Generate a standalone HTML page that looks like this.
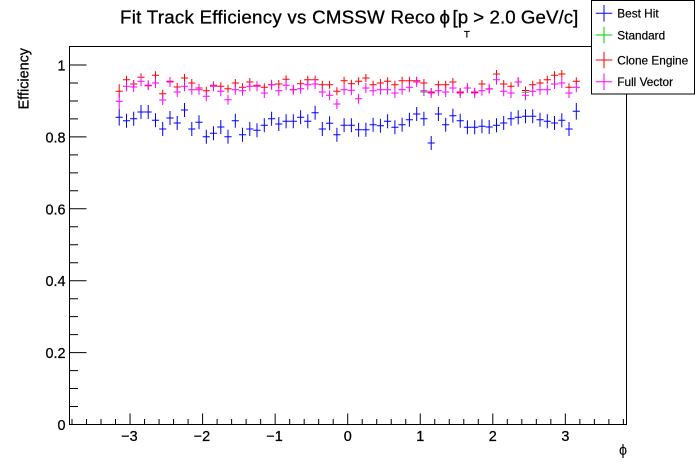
<!DOCTYPE html>
<html><head><meta charset="utf-8"><style>
html,body{margin:0;padding:0;background:#fff;}
svg{display:block;}
text{font-family:"Liberation Sans","DejaVu Sans",sans-serif;fill:#000;}
</style></head><body>
<svg width="696" height="472" viewBox="0 0 696 472" xmlns="http://www.w3.org/2000/svg">
<defs>
<path id="b7" d="M-3.6 0h7.2M0 -7v14" fill="none"/>
<path id="b8" d="M-3.6 0h7.2M0 -8.3v16.6" fill="none"/>
<path id="r4" d="M-3.6 0h7.2M0 -4v8" fill="none"/>
<path id="r7" d="M-3.6 0h7.2M0 -7v14" fill="none"/>
<path id="m5" d="M-3.6 0h7.2M0 -5v10" fill="none"/>
<path id="m8" d="M-3.6 0h7.2M0 -8v16" fill="none"/>
</defs>
<rect width="696" height="472" fill="#fff"/>
<path d="M69.5 46.5H626.5V424.5H69.5Z" fill="none" stroke="#000" stroke-width="1"/>
<path stroke="#000" stroke-width="1" fill="none" d="M130.05 424.5v-11M202.6 424.5v-11M275.15 424.5v-11M347.7 424.5v-11M420.25 424.5v-11M492.8 424.5v-11M565.35 424.5v-11M72 424.5v-5.5M86.5 424.5v-5.5M101 424.5v-5.5M115.5 424.5v-5.5M144.56 424.5v-5.5M159.07 424.5v-5.5M173.58 424.5v-5.5M188.09 424.5v-5.5M217.11 424.5v-5.5M231.62 424.5v-5.5M246.13 424.5v-5.5M260.64 424.5v-5.5M289.66 424.5v-5.5M304.17 424.5v-5.5M318.68 424.5v-5.5M333.19 424.5v-5.5M362.21 424.5v-5.5M376.72 424.5v-5.5M391.23 424.5v-5.5M405.74 424.5v-5.5M434.76 424.5v-5.5M449.27 424.5v-5.5M463.78 424.5v-5.5M478.29 424.5v-5.5M507.31 424.5v-5.5M521.82 424.5v-5.5M536.33 424.5v-5.5M550.84 424.5v-5.5M579.86 424.5v-5.5M594.37 424.5v-5.5M608.88 424.5v-5.5M623.39 424.5v-5.5"/>
<path stroke="#000" stroke-width="1" fill="none" d="M69.5 424.5h17M69.5 352.6h17M69.5 280.7h17M69.5 208.8h17M69.5 136.9h17M69.5 65h17M69.5 406.5h8.5M69.5 388.55h8.5M69.5 370.6h8.5M69.5 334.6h8.5M69.5 316.65h8.5M69.5 298.7h8.5M69.5 262.7h8.5M69.5 244.75h8.5M69.5 226.8h8.5M69.5 190.8h8.5M69.5 172.85h8.5M69.5 154.9h8.5M69.5 118.9h8.5M69.5 100.95h8.5M69.5 83h8.5"/>
<g font-size="14.4" text-anchor="end" stroke="#000" stroke-width="0.25">
<text x="65.5" y="430">0</text>
<text x="65.5" y="358.1">0.2</text>
<text x="65.5" y="286.2">0.4</text>
<text x="65.5" y="214.3">0.6</text>
<text x="65.5" y="142.4">0.8</text>
<text x="65.5" y="70.5">1</text>
</g>
<g font-size="14.4" text-anchor="middle" stroke="#000" stroke-width="0.25">
<text x="129.5" y="441">−3</text>
<text x="202" y="441">−2</text>
<text x="274.6" y="441">−1</text>
<text x="347.7" y="441">0</text>
<text x="420.25" y="441">1</text>
<text x="492.8" y="441">2</text>
<text x="565.35" y="441">3</text>
</g>
<text x="627" y="455" font-size="14.4" text-anchor="end">ϕ</text>
<text transform="translate(28.5,48) rotate(-90)" font-size="14.4" text-anchor="end" stroke="#000" stroke-width="0.25">Efficiency</text>
<g stroke="#000" stroke-width="0.3" font-size="18.7">
<text x="120" y="23.5" textLength="315" lengthAdjust="spacing">Fit Track Efficiency vs CMSSW Reco</text>
<text x="439.5" y="23.5">ϕ</text>
<text x="452.5" y="23.5">[p</text>
<text x="464" y="37.3" font-size="9.5">T</text>
<text x="473.3" y="23.5" textLength="105" lengthAdjust="spacing">&gt; 2.0 GeV/c]</text>
</g>
<g stroke="#0000ff" stroke-width="1">
<use href="#b8" x="119.2" y="117.3"/>
<use href="#b7" x="126.5" y="120.7"/>
<use href="#b7" x="133.7" y="118.7"/>
<use href="#b7" x="141.0" y="112"/>
<use href="#b7" x="148.2" y="112"/>
<use href="#b7" x="155.5" y="120.3"/>
<use href="#b7" x="162.7" y="129"/>
<use href="#b7" x="170.0" y="118"/>
<use href="#b7" x="177.2" y="123"/>
<use href="#b7" x="184.5" y="110"/>
<use href="#b7" x="191.8" y="129"/>
<use href="#b7" x="199.0" y="122.3"/>
<use href="#b7" x="206.3" y="136.7"/>
<use href="#b7" x="213.5" y="133.3"/>
<use href="#b7" x="220.8" y="127"/>
<use href="#b7" x="228.0" y="136.7"/>
<use href="#b7" x="235.3" y="120.7"/>
<use href="#b7" x="242.5" y="134.7"/>
<use href="#b7" x="249.8" y="129"/>
<use href="#b7" x="257.0" y="130.3"/>
<use href="#b7" x="264.3" y="125.3"/>
<use href="#b7" x="271.6" y="118.7"/>
<use href="#b7" x="278.8" y="124"/>
<use href="#b7" x="286.1" y="121.3"/>
<use href="#b7" x="293.3" y="121.3"/>
<use href="#b7" x="300.6" y="117.3"/>
<use href="#b7" x="307.8" y="121.3"/>
<use href="#b7" x="315.1" y="112.7"/>
<use href="#b7" x="322.3" y="129"/>
<use href="#b7" x="329.6" y="123.3"/>
<use href="#b7" x="336.9" y="134.7"/>
<use href="#b7" x="344.1" y="125.3"/>
<use href="#b7" x="351.4" y="125.3"/>
<use href="#b7" x="358.6" y="129.7"/>
<use href="#b7" x="365.9" y="129.7"/>
<use href="#b7" x="373.1" y="124.7"/>
<use href="#b7" x="380.4" y="125.7"/>
<use href="#b7" x="387.6" y="121.3"/>
<use href="#b7" x="394.9" y="127.3"/>
<use href="#b7" x="402.1" y="124.7"/>
<use href="#b7" x="409.4" y="119.7"/>
<use href="#b7" x="416.7" y="114"/>
<use href="#b7" x="423.9" y="118.7"/>
<use href="#b7" x="431.2" y="143"/>
<use href="#b7" x="438.4" y="114"/>
<use href="#b7" x="445.7" y="124.7"/>
<use href="#b7" x="452.9" y="115.7"/>
<use href="#b7" x="460.2" y="120.7"/>
<use href="#b7" x="467.4" y="127.3"/>
<use href="#b7" x="474.7" y="127.3"/>
<use href="#b7" x="481.95" y="126.3"/>
<use href="#b7" x="489.2" y="127"/>
<use href="#b7" x="496.5" y="125.3"/>
<use href="#b7" x="503.7" y="123"/>
<use href="#b7" x="511.0" y="118.7"/>
<use href="#b7" x="518.2" y="117.3"/>
<use href="#b7" x="525.5" y="116.3"/>
<use href="#b7" x="532.7" y="116.3"/>
<use href="#b7" x="540.0" y="119.7"/>
<use href="#b7" x="547.3" y="121.3"/>
<use href="#b7" x="554.5" y="123"/>
<use href="#b7" x="561.8" y="120.3"/>
<use href="#b7" x="569.0" y="129"/>
<use href="#b8" x="576.3" y="111.3"/>
</g>
<g stroke="#00cc00" stroke-width="1">
<use href="#r4" x="525.5" y="92.3"/>
<use href="#r4" x="423.9" y="92"/>
<use href="#r4" x="460.2" y="92"/>
</g>
<g stroke="#ff0000" stroke-width="1">
<use href="#r7" x="119.2" y="91.3"/>
<use href="#r4" x="126.5" y="79.7"/>
<use href="#r4" x="133.7" y="84"/>
<use href="#r4" x="141.0" y="77.3"/>
<use href="#r4" x="148.2" y="85.7"/>
<use href="#r4" x="155.5" y="75.3"/>
<use href="#r4" x="162.7" y="93.7"/>
<use href="#r4" x="170.0" y="81.3"/>
<use href="#r4" x="177.2" y="87"/>
<use href="#r4" x="184.5" y="78"/>
<use href="#r4" x="191.8" y="83"/>
<use href="#r4" x="199.0" y="88"/>
<use href="#r4" x="206.3" y="90.7"/>
<use href="#r4" x="213.5" y="85.3"/>
<use href="#r4" x="220.8" y="86.3"/>
<use href="#r4" x="228.0" y="88.7"/>
<use href="#r4" x="235.3" y="83"/>
<use href="#r4" x="242.5" y="87.3"/>
<use href="#r4" x="249.8" y="82"/>
<use href="#r4" x="257.0" y="85.3"/>
<use href="#r4" x="264.3" y="87.3"/>
<use href="#r4" x="271.6" y="84.7"/>
<use href="#r4" x="278.8" y="84"/>
<use href="#r4" x="286.1" y="79.3"/>
<use href="#r4" x="293.3" y="89.7"/>
<use href="#r4" x="300.6" y="83.7"/>
<use href="#r4" x="307.8" y="79.7"/>
<use href="#r4" x="315.1" y="79.7"/>
<use href="#r4" x="322.3" y="84.7"/>
<use href="#r4" x="329.6" y="84.7"/>
<use href="#r4" x="336.9" y="91.3"/>
<use href="#r4" x="344.1" y="80.7"/>
<use href="#r4" x="351.4" y="83.7"/>
<use href="#r4" x="358.6" y="81.3"/>
<use href="#r4" x="365.9" y="78"/>
<use href="#r4" x="373.1" y="84.7"/>
<use href="#r4" x="380.4" y="83"/>
<use href="#r4" x="387.6" y="81.3"/>
<use href="#r4" x="394.9" y="84.7"/>
<use href="#r4" x="402.1" y="80.7"/>
<use href="#r4" x="409.4" y="80.7"/>
<use href="#r4" x="416.7" y="80.7"/>
<use href="#r4" x="423.9" y="83"/>
<use href="#r4" x="431.2" y="92"/>
<use href="#r4" x="438.4" y="84.7"/>
<use href="#r4" x="445.7" y="84.7"/>
<use href="#r4" x="452.9" y="82"/>
<use href="#r4" x="460.2" y="92"/>
<use href="#r4" x="467.4" y="88"/>
<use href="#r4" x="474.7" y="92"/>
<use href="#r4" x="481.95" y="84"/>
<use href="#r4" x="489.2" y="89"/>
<use href="#r4" x="496.5" y="74"/>
<use href="#r4" x="503.7" y="84"/>
<use href="#r4" x="511.0" y="86.3"/>
<use href="#r4" x="518.2" y="82"/>
<use href="#r4" x="525.5" y="90.5"/>
<use href="#r4" x="532.7" y="84.7"/>
<use href="#r4" x="540.0" y="83"/>
<use href="#r4" x="547.3" y="79.7"/>
<use href="#r4" x="554.5" y="75.3"/>
<use href="#r4" x="561.8" y="74"/>
<use href="#r4" x="569.0" y="87.3"/>
<use href="#r4" x="576.3" y="81.3"/>
</g>
<g stroke="#ff00ff" stroke-width="1">
<use href="#m8" x="119.2" y="101.3"/>
<use href="#m5" x="126.5" y="86.3"/>
<use href="#m5" x="133.7" y="87"/>
<use href="#m5" x="141.0" y="81.3"/>
<use href="#m5" x="148.2" y="85.3"/>
<use href="#m5" x="155.5" y="83"/>
<use href="#m5" x="162.7" y="100"/>
<use href="#m5" x="170.0" y="82"/>
<use href="#m5" x="177.2" y="92"/>
<use href="#m5" x="184.5" y="86.3"/>
<use href="#m5" x="191.8" y="89.7"/>
<use href="#m5" x="199.0" y="89.7"/>
<use href="#m5" x="206.3" y="96.3"/>
<use href="#m5" x="213.5" y="86.3"/>
<use href="#m5" x="220.8" y="91.3"/>
<use href="#m5" x="228.0" y="99.7"/>
<use href="#m5" x="235.3" y="89.7"/>
<use href="#m5" x="242.5" y="90.7"/>
<use href="#m5" x="249.8" y="86.3"/>
<use href="#m5" x="257.0" y="86.3"/>
<use href="#m5" x="264.3" y="93"/>
<use href="#m5" x="271.6" y="84.7"/>
<use href="#m5" x="278.8" y="90.7"/>
<use href="#m5" x="286.1" y="85.3"/>
<use href="#m5" x="293.3" y="89.7"/>
<use href="#m5" x="300.6" y="88.7"/>
<use href="#m5" x="307.8" y="84.7"/>
<use href="#m5" x="315.1" y="84"/>
<use href="#m5" x="322.3" y="92"/>
<use href="#m5" x="329.6" y="95.3"/>
<use href="#m5" x="336.9" y="104"/>
<use href="#m5" x="344.1" y="89.7"/>
<use href="#m5" x="351.4" y="90.3"/>
<use href="#m5" x="358.6" y="98.7"/>
<use href="#m5" x="365.9" y="88"/>
<use href="#m5" x="373.1" y="90.7"/>
<use href="#m5" x="380.4" y="89.7"/>
<use href="#m5" x="387.6" y="89.7"/>
<use href="#m5" x="394.9" y="93"/>
<use href="#m5" x="402.1" y="89.7"/>
<use href="#m5" x="409.4" y="87.3"/>
<use href="#m5" x="416.7" y="82"/>
<use href="#m5" x="423.9" y="90.7"/>
<use href="#m5" x="431.2" y="93"/>
<use href="#m5" x="438.4" y="90.7"/>
<use href="#m5" x="445.7" y="92"/>
<use href="#m5" x="452.9" y="88"/>
<use href="#m5" x="460.2" y="93"/>
<use href="#m5" x="467.4" y="88"/>
<use href="#m5" x="474.7" y="93"/>
<use href="#m5" x="481.95" y="90.7"/>
<use href="#m5" x="489.2" y="88.7"/>
<use href="#m5" x="496.5" y="79.7"/>
<use href="#m5" x="503.7" y="91.3"/>
<use href="#m5" x="511.0" y="93"/>
<use href="#m5" x="518.2" y="82"/>
<use href="#m5" x="525.5" y="95.3"/>
<use href="#m5" x="532.7" y="91.3"/>
<use href="#m5" x="540.0" y="89.7"/>
<use href="#m5" x="547.3" y="89.7"/>
<use href="#m5" x="554.5" y="84"/>
<use href="#m5" x="561.8" y="83"/>
<use href="#m5" x="569.0" y="93"/>
<use href="#m5" x="576.3" y="87.3"/>
</g>
<rect x="591.5" y="0.5" width="103" height="93.5" fill="#fff" stroke="#000" stroke-width="1"/>
<g stroke-width="1" fill="none">
<path stroke="#0000ff" d="M595.7 13.3H612.3M604 5V21.6"/>
<path stroke="#00cc00" d="M595.7 35H612.3M604 26.7V43.3"/>
<path stroke="#ff0000" d="M595.7 60H612.3M604 51.7V68.3"/>
<path stroke="#ff00ff" d="M595.7 81.7H612.3M604 73.4V90"/>
</g>
<g font-size="11.8" stroke="#000" stroke-width="0.2">
<text x="617.3" y="17.6">Best Hit</text>
<text x="617.3" y="39.3">Standard</text>
<text x="617.3" y="64.3">Clone Engine</text>
<text x="617.3" y="86">Full Vector</text>
</g>
</svg>
</body></html>
